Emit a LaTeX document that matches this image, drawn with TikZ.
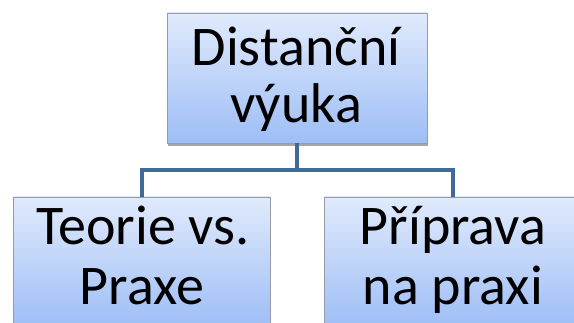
\documentclass[tikz,border=0pt]{standalone}
\usepackage{fontspec}
\setmainfont{Carlito}
\usetikzlibrary{shadows}
\definecolor{topc}{RGB}{224,234,252}
\definecolor{botc}{RGB}{158,190,246}
\definecolor{linec}{RGB}{66,106,152}
\definecolor{edgec}{RGB}{150,155,165}
\begin{document}
\begin{tikzpicture}[x=1pt,y=-1pt,
  box/.style={draw=edgec, line width=0.8pt, top color=topc, bottom color=botc,
    minimum width=258pt, minimum height=130pt, inner sep=0pt,
    drop shadow={shadow xshift=1pt, shadow yshift=-3pt, opacity=0.35, fill=black}},
  txt/.style={anchor=base, inner sep=0pt, font=\fontsize{56}{58}\selectfont},
  conn/.style={draw=linec, line width=4pt}]
\useasboundingbox (0,0) rectangle (574,323);
\coordinate (hl) at (142,170);
\coordinate (hr) at (453,170);
\node[box, minimum width=260pt] (top) at (297,78) {};
\node[box, minimum width=257pt] (left) at (141.5,262) {};
\node[box] (right) at (453,262) {};
\node[txt] (top1) at (296,66) {Distanční};
\node[txt] (top2) at (296,123) {výuka};
\node[txt] (left1) at (143,245) {Teorie vs.};
\node[txt] (left2) at (142,305) {Praxe};
\node[txt] (right1) at (453,245) {Příprava};
\node[txt] (right2) at (453,305) {na praxi};
\draw[conn] (top.south) -- (top.south |- hl);
\draw[conn, line cap=rect] (hl) -- (hr);
\draw[conn] (hl) -- (hl |- left.north);
\draw[conn] (hr) -- (right.north);
\end{tikzpicture}
\end{document}
